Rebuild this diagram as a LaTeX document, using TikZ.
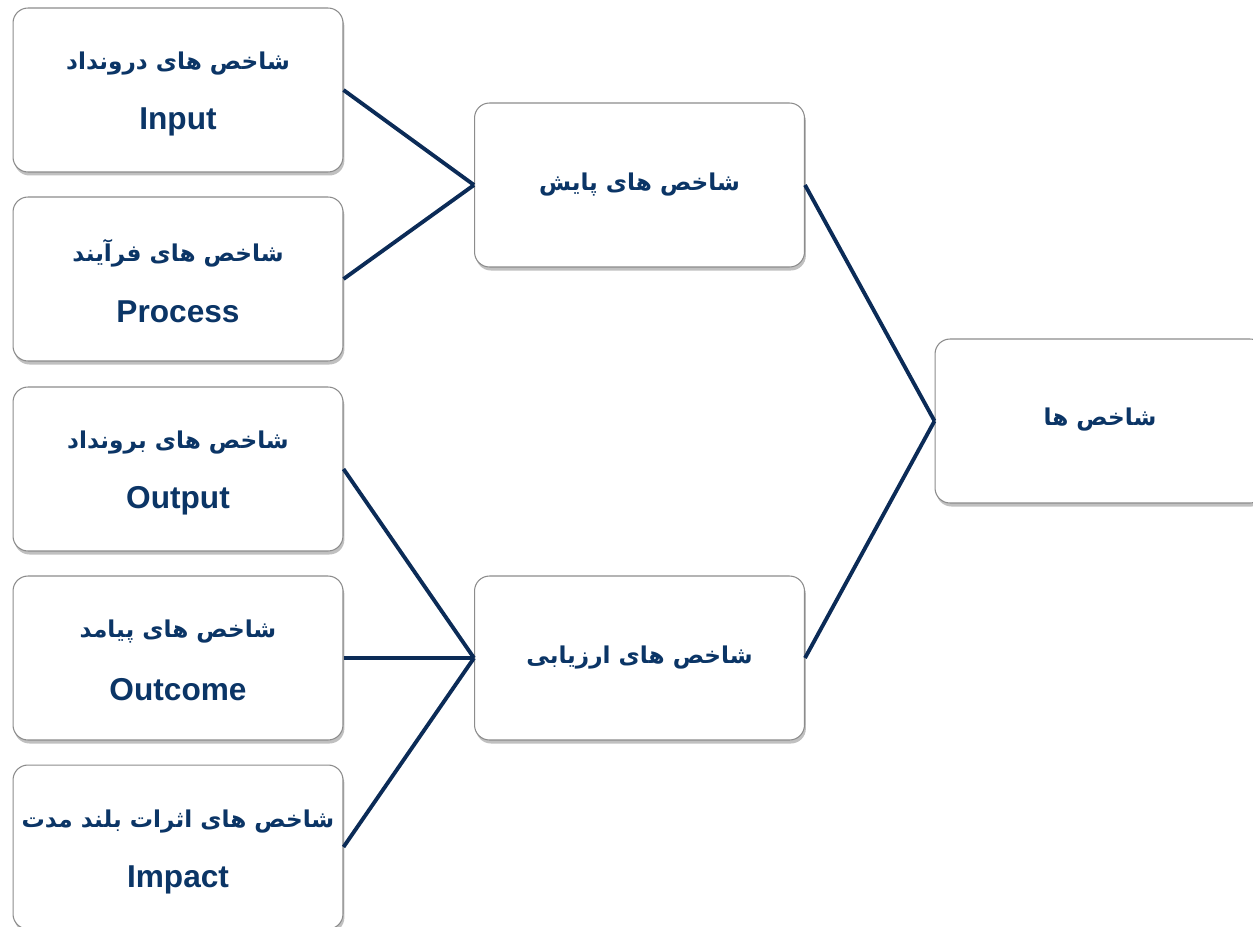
\documentclass[tikz,border=0pt]{standalone}
\usepackage{fontspec}
\setmainfont{Liberation Sans}
\newfontfamily\arabicfont[Script=Arabic]{DejaVu Sans}
\TeXXeTstate=1
\usetikzlibrary{shadows}
\definecolor{navy}{HTML}{0B3566}
\definecolor{linecol}{HTML}{0B2B57}
\definecolor{boxborder}{HTML}{8C8C8C}
\tikzset{
  box/.style={draw=boxborder, line width=0.6pt, fill=white, rounded corners=8.5pt,
    minimum width=6.6cm, minimum height=3.28cm, inner sep=0pt,
    drop shadow={shadow xshift=0.8pt, shadow yshift=-2pt, opacity=0.45, fill=black!55}},
  fa/.style={font=\arabicfont\bfseries\fontsize{13.2}{16}\selectfont, text=navy, inner sep=0pt},
  en/.style={font=\bfseries\fontsize{18}{20}\selectfont, text=navy, inner sep=0pt},
  conn/.style={draw=linecol, line width=2.2pt}
}
\begin{document}
\begin{tikzpicture}[x=0.02cm, y=-0.02cm]
\useasboundingbox (0,0) rectangle (1253,926);
\clip (0,0) rectangle (1253,926);
% left boxes
\node[box] (b1) at (178,90) {};
\node[box] (b2) at (178,279) {};
\node[box] (b3) at (178,469) {};
\node[box] (b4) at (178,658) {};
\node[box] (b5) at (178,847) {};
% middle
\node[box] (m1) at (639.5,185) {};
\node[box] (m2) at (639.5,658) {};
% right
\node[box] (r) at (1100,421) {};
% texts
\node[fa] (t1a) at (178,64) {\beginR شاخص های درونداد\endR};
\node[en] (t1b) at (178,122) {Input};
\node[fa] (t2a) at (178,253) {\beginR شاخص های فرآیند\endR};
\node[en] (t2b) at (178,312) {Process};
\node[fa] (t3a) at (178,443) {\beginR شاخص های برونداد\endR};
\node[en] (t3b) at (178,501) {Output};
\node[fa] (t4a) at (178,632) {\beginR شاخص های پیامد\endR};
\node[en] (t4b) at (178,690) {Outcome};
\node[fa] (t5a) at (178,822) {\beginR شاخص های اثرات بلند مدت\endR};
\node[en] (t5b) at (178,880) {Impact};
\node[fa] (tm1) at (639.5,185) {\beginR شاخص های پایش\endR};
\node[fa] (tm2) at (639.5,658) {\beginR شاخص های ارزیابی\endR};
\node[fa] (tr) at (1100,420) {\beginR شاخص ها\endR};
% connectors
\draw[conn] (b1.east) -- (m1.west);
\draw[conn] (b2.east) -- (m1.west);
\draw[conn] (b3.east) -- (m2.west);
\draw[conn] (b4.east) -- (m2.west);
\draw[conn] (b5.east) -- (m2.west);
\draw[conn] (m1.east) -- (r.west);
\draw[conn] (m2.east) -- (r.west);
\end{tikzpicture}
\end{document}
